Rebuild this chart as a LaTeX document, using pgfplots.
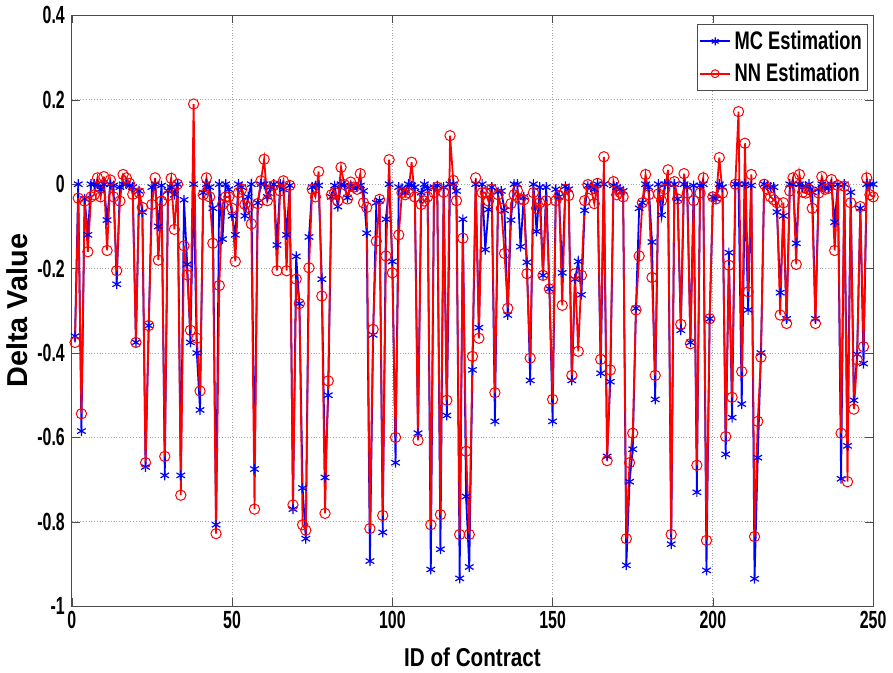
\documentclass[border=0pt]{standalone}
\usepackage{fontspec}
\setmainfont{Liberation Sans}
\newfontfamily\narrowA[FakeStretch=0.64]{Liberation Sans}
\newfontfamily\narrowB[FakeStretch=0.8]{Liberation Sans}
\newfontfamily\narrowC[FakeStretch=0.72]{Liberation Sans}
\usepackage{pgfplots}
\usepackage{pgfplotstable}
\pgfplotsset{compat=1.18}

% delta per contract: Monte Carlo vs neural network
\pgfplotstableread{
id mc nn
1 -0.36 -0.375
2 0 -0.033
3 -0.585 -0.544
4 -0.035 -0.04
5 -0.12 -0.16
6 0 -0.03
7 0 -0.025
8 0 0.015
9 -0.012 -0.03
10 0 0.018
11 -0.085 -0.157
12 0 0.01
13 -0.003 -0.03
14 -0.237 -0.205
15 -0.007 -0.04
16 0 0.023
17 0 0.015
18 -0.003 0.002
19 -0.007 -0.024
20 -0.375 -0.375
21 -0.016 -0.02
22 -0.066 -0.055
23 -0.67 -0.66
24 -0.335 -0.335
25 -0.007 -0.048
26 0 0.015
27 -0.1 -0.18
28 -0.003 -0.04
29 -0.69 -0.645
30 -0.016 -0.027
31 -0.007 0.014
32 -0.025 -0.107
33 0 0
34 -0.69 -0.737
35 -0.037 -0.146
36 -0.19 -0.215
37 -0.375 -0.346
38 0 0.19
39 -0.40 -0.365
40 -0.535 -0.49
41 -0.02 -0.025
42 0 0.015
43 -0.007 -0.03
44 -0.057 -0.14
45 -0.807 -0.828
46 0 -0.24
47 -0.13 -0.048
48 0 -0.03
49 -0.012 -0.03
50 -0.075 -0.057
51 -0.12 -0.183
52 0 -0.02
53 -0.007 -0.012
54 -0.075 -0.048
55 -0.03 -0.055
56 0 -0.094
57 -0.675 -0.77
58 -0.044 -0.046
59 0 0.008
60 0 0.059
61 -0.03 -0.039
62 -0.007 -0.016
63 0 -0.003
64 -0.144 -0.205
65 0 -0.016
66 -0.012 0.008
67 -0.12 -0.205
68 -0.003 -0.003
69 -0.77 -0.76
70 -0.171 -0.225
71 -0.283 -0.283
72 -0.72 -0.807
73 -0.84 -0.82
74 -0.125 -0.198
75 -0.007 -0.012
76 -0.003 -0.03
77 -0.003 0.03
78 -0.225 -0.265
79 -0.695 -0.78
80 -0.5 -0.466
81 -0.03 -0.025
82 -0.003 -0.02
83 -0.053 -0.039
84 0 0.04
85 -0.003 -0.001
86 -0.032 -0.035
87 -0.005 0.005
88 -0.01 -0.007
89 -0.007 -0.012
90 -0.003 0.025
91 -0.016 -0.044
92 -0.116 -0.055
93 -0.893 -0.816
94 -0.357 -0.344
95 -0.044 -0.135
96 -0.039 -0.036
97 -0.825 -0.785
98 -0.083 -0.17
99 0 0.058
100 -0.183 -0.21
101 -0.66 -0.6
102 -0.007 -0.12
103 -0.01 -0.02
104 -0.02 -0.025
105 0 -0.02
106 -0.003 0.052
107 -0.007 -0.03
108 -0.59 -0.607
109 -0.02 -0.048
110 0 -0.04
111 -0.01 -0.03
112 -0.913 -0.807
113 -0.007 -0.02
114 -0.003 -0.007
115 -0.865 -0.783
116 -0.007 -0.019
117 -0.548 -0.512
118 0 0.115
119 0 0.009
120 -0.016 -0.039
121 -0.934 -0.83
122 -0.083 -0.128
123 -0.74 -0.633
124 -0.907 -0.83
125 -0.44 -0.408
126 0 0.015
127 -0.34 -0.365
128 0 -0.02
129 -0.155 -0.02
130 -0.06 -0.04
131 -0.007 -0.012
132 -0.562 -0.494
133 -0.018 -0.025
134 -0.016 -0.057
135 -0.062 -0.164
136 -0.31 -0.294
137 -0.085 -0.046
138 0 -0.025
139 0 -0.015
140 -0.148 -0.035
141 -0.03 -0.037
142 -0.185 -0.212
143 -0.465 -0.412
144 0 -0.02
145 -0.112 -0.057
146 -0.007 -0.044
147 -0.216 -0.216
148 -0.007 -0.039
149 -0.248 -0.248
150 -0.562 -0.51
151 -0.012 -0.039
152 -0.03 -0.027
153 -0.21 -0.287
154 -0.005 -0.012
155 -0.012 -0.027
156 -0.465 -0.453
157 -0.225 -0.212
158 -0.183 -0.396
159 -0.262 -0.216
160 -0.062 -0.039
161 -0.003 -0.001
162 -0.007 -0.012
163 -0.012 -0.046
164 0 0.002
165 -0.448 -0.415
166 0 0.065
167 -0.645 -0.655
168 -0.468 -0.44
169 -0.003 0.006
170 -0.007 -0.025
171 -0.012 -0.019
172 -0.016 -0.03
173 -0.903 -0.84
174 -0.705 -0.66
175 -0.628 -0.59
176 -0.294 -0.298
177 -0.057 -0.17
178 -0.044 -0.044
179 0 0.023
180 -0.007 -0.025
181 -0.137 -0.221
182 -0.51 -0.453
183 0 -0.023
184 -0.073 -0.039
185 0 -0.012
186 0 0.034
187 -0.853 -0.83
188 0 0.006
189 -0.035 -0.035
190 -0.346 -0.332
191 0 0.025
192 -0.007 -0.021
193 -0.375 -0.378
194 -0.003 -0.039
195 -0.73 -0.666
196 -0.003 -0.021
197 0 0.015
198 -0.915 -0.844
199 -0.319 -0.319
200 -0.03 -0.03
201 -0.035 -0.035
202 0 0.063
203 -0.007 -0.021
204 -0.64 -0.598
205 -0.162 -0.192
206 -0.553 -0.505
207 0 0
208 0 0.172
209 -0.521 -0.444
210 0 0.097
211 -0.298 -0.255
212 -0.003 0.023
213 -0.935 -0.835
214 -0.648 -0.562
215 -0.4 -0.41
216 0 0
217 -0.003 -0.012
218 -0.007 -0.03
219 -0.007 -0.037
220 -0.066 -0.044
221 -0.257 -0.31
222 -0.075 -0.044
223 -0.319 -0.33
224 0 -0.016
225 0 0.015
226 -0.14 -0.19
227 0 0.023
228 -0.007 -0.019
229 -0.005 -0.021
230 0 -0.012
231 -0.019 -0.057
232 -0.319 -0.33
233 -0.012 -0.021
234 0 0.018
235 -0.007 -0.012
236 -0.01 -0.01
237 0 0.011
238 -0.09 -0.157
239 0 -0.003
240 -0.698 -0.59
241 0 -0.005
242 -0.62 -0.705
243 -0.019 -0.044
244 -0.512 -0.533
245 -0.403 -0.416
246 -0.057 -0.053
247 -0.425 -0.385
248 0 0.015
249 0 -0.025
250 0 -0.03
}\deltas

\begin{document}
\begin{tikzpicture}
\begin{axis}[
  width=403.5pt, height=297.5pt, scale only axis,
  xmin=0, xmax=250, ymin=-1, ymax=0.4,
  xtick={0,50,...,250},
  ytick={-1,-0.8,-0.6,-0.4,-0.2,0,0.2,0.4},
  grid=major,
  major grid style={densely dotted, gray!70, line width=0.4pt},
  tick align=inside,
  major tick length=4pt,
  axis line style={black!70, line width=0.6pt},
  tick style={black!70},
  /pgf/number format/assume math mode=true,
  tick label style={font=\narrowA\bfseries\fontsize{12.5}{14}\selectfont},
  xticklabel style={yshift=1pt},
  xlabel={ID of Contract},
  ylabel={Delta Value},
  xlabel style={font=\narrowB\bfseries\fontsize{13}{15}\selectfont, yshift=-2.5pt},
  ylabel style={font=\bfseries\fontsize{14.5}{16}\selectfont, yshift=-2pt},
  legend style={at={(1,1)}, anchor=north east, xshift=-2.5pt, yshift=-4.5pt,
    font=\narrowC\bfseries\fontsize{12.8}{14}\selectfont, draw=black!70,
    inner sep=1pt, row sep=1.5pt},
  legend cell align=left,
  legend image code/.code={
    \draw[mark repeat=2, mark phase=2, mark size=2pt, #1]
      plot coordinates {(0cm,0cm) (0.26cm,0cm) (0.52cm,0cm)};},
]
\addplot[blue, line width=0.9pt, mark=asterisk, mark size=2.5pt,
  mark options={line width=0.6pt}] table[x=id, y=mc] {\deltas};
\addplot[red, line width=0.9pt, mark=o, mark size=2.6pt,
  mark options={line width=0.5pt}] table[x=id, y=nn] {\deltas};
\legend{MC Estimation, NN Estimation}
\end{axis}
\end{tikzpicture}
\end{document}
